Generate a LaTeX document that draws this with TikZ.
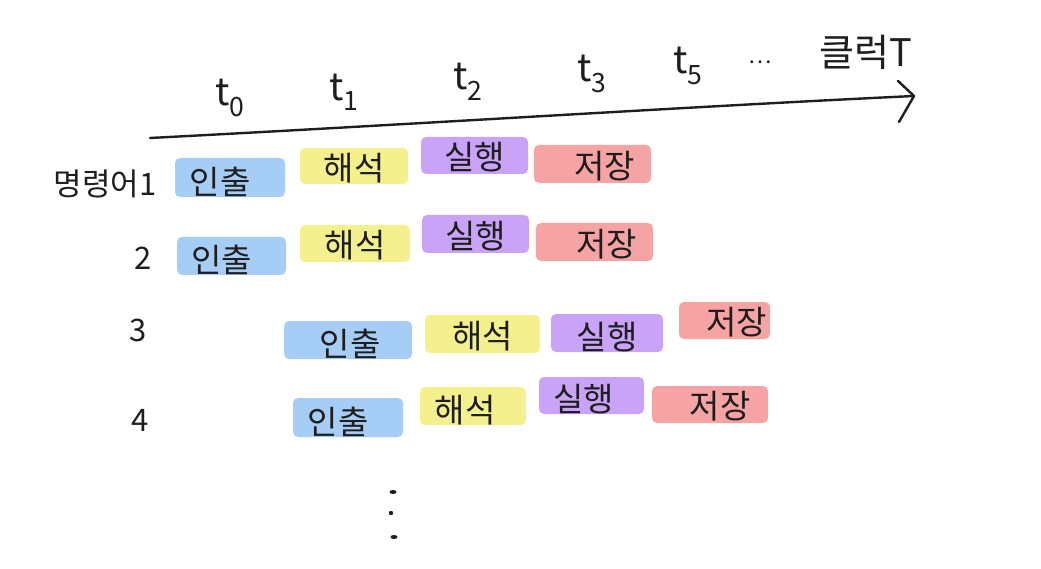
\documentclass[tikz,border=0pt]{standalone}
\usepackage{fontspec}
\setmainfont{Noto Sans CJK KR}
\newfontfamily\cjk{Noto Sans CJK KR}
\definecolor{fetchc}{HTML}{A6CDF6}
\definecolor{decodec}{HTML}{F5F08E}
\definecolor{execc}{HTML}{C9A3F8}
\definecolor{storec}{HTML}{F6A3A3}
\definecolor{ink}{HTML}{1E1E1E}
\tikzset{
  stage/.style={rounded corners=5pt, inner sep=0pt, text=ink,
    font=\cjk\fontsize{33}{33}\selectfont},
  fetchbox/.style={stage, fill=fetchc},
  decodebox/.style={stage, fill=decodec},
  execbox/.style={stage, fill=execc},
  storebox/.style={stage, fill=storec},
  rowlabel/.style={text=ink, font=\cjk\fontsize{31}{31}\selectfont},
  timelabel/.style={text=ink, font=\cjk\fontsize{38}{38}\selectfont},
  pen/.style={draw=ink, line width=2.4pt, line cap=round, line join=round},
}
\newcommand{\stagebox}[6]{%
  \node[#1, minimum width={#4-#2}, minimum height={#5-#3}] (#6) at ({(#2+#4)/2},{(#3+#5)/2}) {};}
\begin{document}
\begin{tikzpicture}[x=1pt,y=-1pt]
\useasboundingbox (0,0) rectangle (1041,569);
\fill[white] (0,0) rectangle (1041,569);

% axis
\coordinate (axs) at (150,138);
\coordinate (axe) at (914,96);
\coordinate (ahu) at (898,81);
\coordinate (ahl) at (899,122);
\draw[pen] (axs) .. controls (420,124) and (700,106) .. (axe);
\draw[pen] (ahu) -- (axe) -- (ahl);

% time labels
\node[timelabel] (t0) at (230,98) {t\textsubscript{0}};
\node[timelabel] (t1) at (344,92) {t\textsubscript{1}};
\node[timelabel] (t2) at (468,82) {t\textsubscript{2}};
\node[timelabel] (t3) at (592,74) {t\textsubscript{3}};
\node[timelabel] (t5) at (688,66) {t\textsubscript{5}};
\node[timelabel] (tdots) at (760,62) {\fontsize{22}{22}\selectfont ⋯};
\node[timelabel] (clk) at (866,52) {클럭T};

% row labels
\node[rowlabel] (r1) at (105,184) {명령어1};
\node[rowlabel] (r2) at (143,258) {2};
\node[rowlabel] (r3) at (138,330) {3};
\node[rowlabel] (r4) at (140,420) {4};

% row 1
\stagebox{fetchbox}{175}{158}{285}{197}{a1}
\stagebox{decodebox}{300}{148}{408}{184}{b1}
\stagebox{execbox}{421}{137}{528}{174}{c1}
\stagebox{storebox}{534}{145}{651}{183}{d1}
% row 2
\stagebox{fetchbox}{177}{237}{286}{275}{a2}
\stagebox{decodebox}{300}{225}{410}{262}{b2}
\stagebox{execbox}{422}{215}{529}{253}{c2}
\stagebox{storebox}{536}{223}{653}{261}{d2}
% row 3
\stagebox{fetchbox}{284}{321}{412}{359}{a3}
\stagebox{decodebox}{425}{315}{540}{353}{b3}
\stagebox{execbox}{551}{314}{663}{352}{c3}
\stagebox{storebox}{679}{302}{770}{339}{d3}
% row 4
\stagebox{fetchbox}{293}{398}{403}{437}{a4}
\stagebox{decodebox}{420}{387}{526}{425}{b4}
\stagebox{execbox}{539}{377}{644}{414}{c4}
\stagebox{storebox}{652}{386}{768}{423}{d4}

% texts
\foreach \n/\t/\dx/\dy in {a1/인출/-10/4, a2/인출/-10/4, a3/인출/2/4, a4/인출/-10/4,
  b1/해석/0/2, b2/해석/0/2, b3/해석/0/2, b4/해석/-8/4,
  c1/실행/0/2, c2/실행/0/2, c3/실행/0/4, c4/실행/-8/4,
  d1/저장/12/2, d2/저장/12/2, d3/저장/12/2, d4/저장/10/2}
  \node[stage, anchor=center] at ([xshift=\dx pt, yshift=-\dy pt]\n.center) {\t};

% vertical dots
\fill[ink] (393,492) ellipse (3.5pt and 2pt);
\fill[ink] (391,513) circle (2.2pt);
\fill[ink] (394,537) ellipse (3.5pt and 2pt);
\end{tikzpicture}
\end{document}
